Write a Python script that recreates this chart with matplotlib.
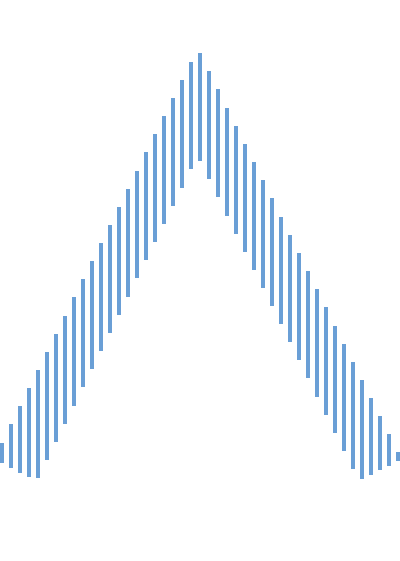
import numpy as np
import matplotlib.pyplot as plt

# floating bars: low and high end of each bar
low = [2.04, 1.76, 1.52, 1.26, 1.21, 2.22, 3.22, 4.24, 5.24, 6.26,
       7.28, 8.29, 9.29, 10.29, 11.29, 12.32, 13.32, 14.33, 15.33, 16.33,
       17.35, 18.37, 18.83, 17.83, 16.82, 15.79, 14.79, 13.78, 12.78, 11.78,
       10.78, 9.78, 8.78, 7.78, 6.76, 5.74, 4.72, 3.72, 2.71, 1.71,
       1.15, 1.39, 1.65, 1.91, 2.17]
high = [3.18, 4.21, 5.21, 6.22, 7.22, 8.22, 9.24, 10.24, 11.26, 12.26,
        13.28, 14.26, 15.28, 16.28, 17.29, 18.29, 19.32, 20.32, 21.33, 22.33,
        23.33, 24.35, 24.83, 23.82, 22.82, 21.79, 20.79, 19.78, 18.78, 17.76,
        16.76, 15.74, 14.74, 13.74, 12.74, 11.72, 10.71, 9.68, 8.68, 7.68,
        6.67, 5.67, 4.67, 3.67, 2.65]

x = np.arange(len(low))
low = np.array(low)
high = np.array(high)

fig = plt.figure(figsize=(4, 5.61), dpi=100)
ax = fig.add_axes([0, 0, 1, 1])
ax.bar(x, high - low, bottom=low, width=0.46, color='#6a9fd6')

ax.set_xlim(-0.19, 44.26)
ax.set_ylim(-3.39, 27.78)
ax.axis('off')

fig.savefig('out.png', dpi=100, facecolor='white')
